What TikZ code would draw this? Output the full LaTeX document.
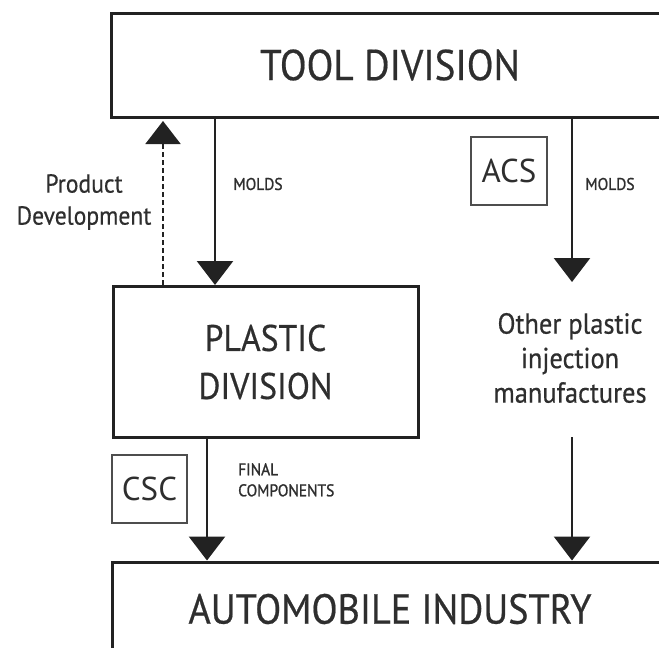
\documentclass[tikz,border=0pt]{standalone}
\usepackage{fontspec}
\setmainfont{PT Sans}
\newfontfamily\narrowsans{PT Sans}[FakeStretch=0.91, FakeBold=0.5]
\newfontfamily\labelsans{PT Sans}[FakeStretch=0.91, FakeBold=1.2]
\usetikzlibrary{arrows.meta}

\definecolor{ink}{HTML}{222222}
\definecolor{txt}{HTML}{2E2E2E}

\tikzset{
  bigbox/.style={draw=ink, line width=3pt, rectangle, inner sep=0pt, text=txt, align=center},
  tagbox/.style={draw=ink!80, line width=1.4pt, rectangle, inner sep=0pt, text=txt,
                 font=\fontsize{33}{36}\selectfont},
  flow/.style={draw=ink, line width=2.6pt,
               -{Triangle[width=36pt,length=24pt]}},
  devflow/.style={draw=ink, line width=2pt, dash pattern=on 5pt off 3pt,
               -{Triangle[width=35pt,length=23pt]}},
  smalllbl/.style={text=txt, font=\labelsans\fontsize{17}{21}\selectfont, inner sep=0pt, align=left},
  midlbl/.style={text=txt, align=center, inner sep=0pt}
}

\begin{document}
\begin{tikzpicture}[x=1pt, y=-1pt]
  \useasboundingbox (0,0) rectangle (659,648);
  \clip (0,0) rectangle (659,648);

  % main boxes
  \node[bigbox, minimum width=558pt, minimum height=104pt,
        font=\narrowsans\fontsize{43}{48}\selectfont] (tool) at (390,65) {TOOL DIVISION};
  \node[bigbox, minimum width=305pt, minimum height=151pt,
        font=\narrowsans\fontsize{37}{48}\selectfont] (plastic) at (265.5,362) {PLASTIC\\DIVISION};
  \node[bigbox, minimum width=556pt, minimum height=94pt,
        font=\narrowsans\fontsize{42}{48}\selectfont] (auto) at (390,609) {AUTOMOBILE INDUSTRY};

  % tag boxes
  \node[tagbox, minimum width=76pt, minimum height=68pt] (acs) at (509,171) {ACS};
  \node[tagbox, minimum width=75pt, minimum height=68pt] (csc) at (149.5,489) {CSC};

  % free text
  \node[midlbl, font=\narrowsans\fontsize{29}{34.5}\selectfont] (other) at (570,358)
       {Other plastic\\injection\\manufactures};
  \node[midlbl, font=\narrowsans\fontsize{26}{32}\selectfont] (proddev) at (84,202)
       {Product\\Development};
  \node[smalllbl] (molds1) at (258,184) {MOLDS};
  \node[smalllbl] (molds2) at (610,184) {MOLDS};
  \node[smalllbl, anchor=north west] (final) at (238,463) {FINAL\\COMPONENTS};

  % connector positions
  \coordinate (c1) at (215,0);
  \coordinate (c2) at (163,0);
  \coordinate (c3) at (207,0);
  \coordinate (rtop) at (572,282);
  \coordinate (rbot) at (572,437);
  \coordinate (devtip) at (163,121);

  % connectors
  \draw[flow] (tool.south -| c1) -- (plastic.north -| c1);
  \draw[devflow] (plastic.north -| c2) -- (devtip);
  \draw[flow] (tool.south -| rtop) -- (rtop);
  \draw[flow] (plastic.south -| c3) -- (auto.north -| c3);
  \draw[flow] (rbot) -- (auto.north -| rbot);
\end{tikzpicture}
\end{document}
